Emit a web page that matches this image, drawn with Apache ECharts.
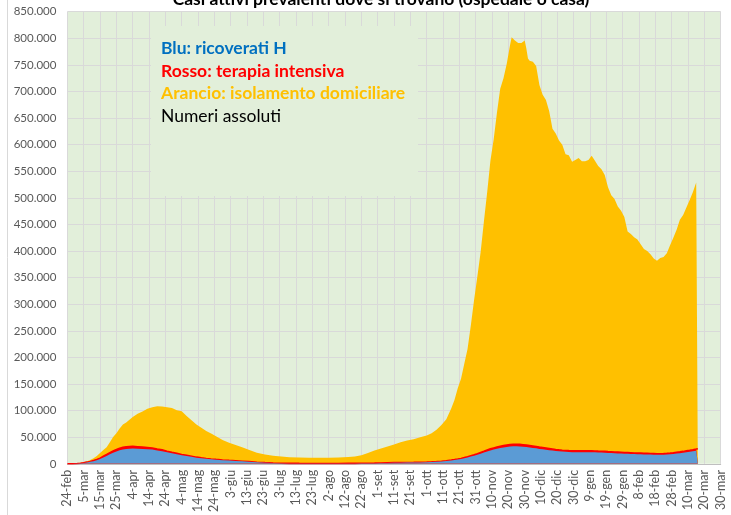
<!DOCTYPE html>
<html><head><meta charset="utf-8">
<script src="https://cdn.jsdelivr.net/npm/echarts@6.0.0/dist/echarts.min.js"></script>
<style>html,body{margin:0;padding:0;background:#fff}#c{width:731px;height:515px}</style>
</head><body><div id="c"></div>
<script>
// Tick labels every 10 days starting 24-feb-2020
const tickLabels = ['24-feb','5-mar','15-mar','25-mar','4-apr','14-apr','24-apr','4-mag','14-mag','24-mag',
  '3-giu','13-giu','23-giu','3-lug','13-lug','23-lug','2-ago','12-ago','22-ago','1-set',
  '11-set','21-set','1-ott','11-ott','21-ott','31-ott','10-nov','20-nov','30-nov','10-dic',
  '20-dic','30-dic','9-gen','19-gen','29-gen','8-feb','18-feb','28-feb','10-mar','20-mar','30-mar'];

// Days since 24-feb-2020
const giorni = [0,3,6,8,10,12,14,16,18,20,22,24,26,28,30,32,34,36,38,40,
  43,46,49,52,55,58,61,64,67,70,73,76,79,82,85,88,91,95,99,103,
  107,111,116,121,126,131,136,142,148,154,160,166,172,176,180,184,188,192,196,200,
  204,208,212,216,220,223,226,229,232,235,237,239,241,243,245,247,249,251,253,255,
  257,259,261,263,265,267,269,271,272,273,274,275,276,277,278,279,280,281,282,283,
  285,287,289,291,293,295,297,299,301,303,305,307,309,311,313,315,317,319,321,323,
  325,327,329,331,333,335,337,339,341,343,345,347,349,351,353,355,357,359,361,363,
  365,367,369,371,373,375,377,379,381,383,384,385,386];

// Totale casi attivi (migliaia)
const totaleK = [0.22,0.65,1.58,2.26,3.3,5.06,7.4,10.6,14.9,20.6,26.1,31,40.5,50.4,57.5,66.4,73.9,77.6,83.0,88.3,
  94.1,98.3,103.6,106.6,108.2,107.7,106.5,105.2,100.9,99.0,90,82,74,68,62,57,52,45,39.5,35.5,
  31,26.5,21,17.5,15.4,13.8,12.6,12.0,11.5,11.4,11.5,11.9,13.0,14.0,16.2,20.5,25.0,28.8,32.5,36.2,
  40.5,44.0,46.5,50.0,53.5,57.5,64.0,73.0,84.0,104,120,142,160,188,216,260,308,352,398,455,
  510,570,610,660,705,725,752,787,802,805,796,799,791,788,791,793,796,781,762,758,
  756,748,712,694,684,663,630,621,608,600,582,580,568,571,575,569,569,571,579,570,
  560,554,543,520,505,498,484,476,464,437,432,426,422,413,404,400,394,386,382,387,
  389,396,411,425,440,459,468,482,496,511,520,529,531];

// Ospedalizzati = ricoverati + terapia intensiva (migliaia)
const ospedalizzatiK = [0.13,0.34,0.78,1.26,2.14,3.2,4.5,6.1,8.0,10.6,14.2,17.5,21.0,24.2,26.8,29.5,31.0,32.0,32.5,32.8,
  32.3,31.6,30.8,29.9,28.0,26.4,23.8,21.6,19.8,17.6,16.0,14.4,12.6,11.3,10.2,9.2,8.4,7.4,6.5,5.8,
  5.0,4.2,3.1,2.3,1.6,1.15,0.98,0.86,0.8,0.78,0.78,0.82,0.9,0.96,1.06,1.2,1.4,1.65,1.95,2.25,
  2.45,2.6,2.8,3.05,3.35,3.65,4.2,4.95,5.9,7.0,7.9,8.9,10.2,11.7,13.3,15.1,16.9,19.1,21.4,23.6,
  25.9,28.2,30.0,31.7,33.1,34.4,35.4,36.2,36.5,36.8,36.9,37.0,36.8,36.6,36.3,36.0,35.6,35.2,34.8,34.4,
  33.5,32.6,31.5,30.6,29.7,28.8,27.9,27.0,26.3,25.7,25.2,24.8,24.5,24.6,24.6,24.5,24.5,24.5,24.6,24.3,
  24.0,23.8,23.4,23.0,22.7,22.3,22.0,21.7,21.4,21.1,20.8,20.5,20.3,20.1,19.9,19.7,19.5,19.3,19.1,19.1,
  19.3,19.7,20.2,20.9,21.7,22.5,23.4,24.4,25.4,26.5,27.1,27.8,28.5];

// Terapia intensiva (migliaia)
const terapiaIntensivaK = [0.026,0.056,0.14,0.23,0.35,0.57,0.73,1.03,1.33,1.67,2.06,2.5,2.86,3.2,3.4,3.73,3.91,4.02,4.05,3.99,
  3.79,3.5,3.26,3.08,2.73,2.47,2.1,1.86,1.69,1.48,1.31,1.03,0.89,0.78,0.68,0.6,0.55,0.48,0.41,0.35,
  0.28,0.23,0.16,0.13,0.11,0.09,0.07,0.06,0.05,0.04,0.04,0.05,0.06,0.07,0.07,0.09,0.1,0.13,0.15,0.17,
  0.19,0.21,0.24,0.27,0.29,0.32,0.36,0.42,0.51,0.64,0.71,0.8,0.93,1.1,1.28,1.46,1.65,1.94,2.2,2.39,
  2.63,2.85,3.08,3.23,3.42,3.61,3.71,3.76,3.8,3.82,3.81,3.85,3.82,3.78,3.76,3.74,3.7,3.66,3.62,3.6,
  3.52,3.45,3.34,3.26,3.1,3.0,2.86,2.74,2.7,2.62,2.58,2.55,2.56,2.56,2.57,2.57,2.6,2.6,2.59,2.56,
  2.52,2.49,2.49,2.49,2.42,2.37,2.3,2.25,2.22,2.2,2.17,2.15,2.14,2.13,2.13,2.1,2.07,2.07,2.07,2.07,
  2.13,2.17,2.25,2.33,2.41,2.5,2.6,2.7,2.83,3.0,3.1,3.26,3.3];

const legendLines = [
  {text: 'Blu: ricoverati H', color: '#0070C0', weight: 'bold'},
  {text: 'Rosso: terapia intensiva', color: '#FF0000', weight: 'bold'},
  {text: 'Arancio: isolamento domiciliare', color: '#FFC000', weight: 'bold'},
  {text: 'Numeri assoluti', color: '#000000', weight: 'normal'}
];
const titolo = 'Casi attivi prevalenti dove si trovano (ospedale o casa)';

const FONT = 'Lato, "Open Sans", sans-serif';
const totData = giorni.map((d, i) => [d, totaleK[i] * 1000]);
const ospData = giorni.map((d, i) => [d, ospedalizzatiK[i] * 1000]);
const ricData = giorni.map((d, i) => [d, (ospedalizzatiK[i] - terapiaIntensivaK[i]) * 1000]);

const chart = echarts.init(document.getElementById('c'), null, {renderer: 'canvas'});
const fmt = v => String(v).replace(/\B(?=(\d{3})+(?!\d))/g, '.');

const graphics = [
  {type: 'line', shape: {x1: 7.5, y1: 0, x2: 7.5, y2: 515}, style: {stroke: '#d9d9d9', lineWidth: 1}, z: 50},
  {type: 'rect', shape: {x: 151, y: 26, width: 267, height: 170}, style: {fill: '#E2EFDA'}, z: 50},
  {type: 'text', x: 381, y: 8, style: {text: titolo, fill: '#000', font: 'bold 17.5px ' + FONT, textAlign: 'center', textVerticalAlign: 'bottom'}, z: 60}
];
legendLines.forEach((l, i) => {
  graphics.push({type: 'text', x: 161, y: 48.5 + i * 22.6,
    style: {text: l.text, fill: l.color, font: l.weight + ' 17.5px ' + FONT, textVerticalAlign: 'middle'}, z: 60});
});

chart.setOption({
  backgroundColor: '#ffffff',
  animation: false,
  grid: {left: 67.4, right: 10.3, top: 11.7, bottom: 51, show: true, backgroundColor: '#E2EFDA', borderWidth: 0},
  xAxis: {
    type: 'value', min: 0, max: 400, interval: 10,
    axisLine: {show: true, lineStyle: {color: '#bfbfbf', width: 1}},
    axisTick: {show: false},
    splitLine: {show: true, lineStyle: {color: '#d9d9d9', width: 1}},
    axisLabel: {rotate: 90, fontSize: 12.5, color: '#595959', fontFamily: FONT, margin: 6,
      formatter: v => tickLabels[Math.round(v / 10)] || ''}
  },
  yAxis: {
    type: 'value', min: 0, max: 850000, interval: 50000,
    axisLine: {show: false}, axisTick: {show: false},
    splitLine: {show: true, lineStyle: {color: '#d9d9d9', width: 1}},
    axisLabel: {fontSize: 11.5, color: '#595959', fontFamily: FONT, margin: 11, formatter: v => fmt(v)}
  },
  series: [
    {name: 'Arancio: isolamento domiciliare', type: 'line', data: totData, symbol: 'none',
      lineStyle: {width: 0}, areaStyle: {color: '#FFC000', opacity: 1}, z: 2},
    {name: 'Rosso: terapia intensiva', type: 'line', data: ospData, symbol: 'none',
      lineStyle: {width: 1.6, color: '#FF0000'}, areaStyle: {color: '#FF0000', opacity: 1}, z: 3},
    {name: 'Blu: ricoverati H', type: 'line', data: ricData, symbol: 'none',
      lineStyle: {width: 0}, areaStyle: {color: '#5B9BD5', opacity: 1}, z: 4}
  ],
  graphic: graphics
});
</script>
</body></html>
